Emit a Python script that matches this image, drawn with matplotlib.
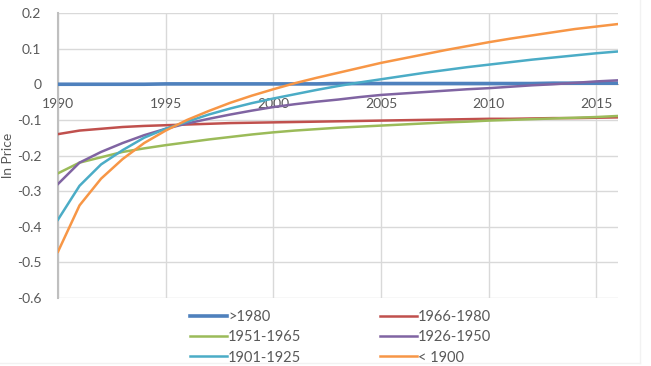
import numpy as np
import matplotlib
matplotlib.use("Agg")
import matplotlib.pyplot as plt
from matplotlib.lines import Line2D

plt.rcParams['font.family'] = ['Lato', 'DejaVu Sans']

years = list(range(1990, 2017))

after_1980 = [0.000, 0.000, 0.000, 0.000, 0.000, 0.001, 0.001, 0.001, 0.001, 0.001,
              0.001, 0.001, 0.001, 0.002, 0.002, 0.002, 0.002, 0.002, 0.002, 0.002,
              0.002, 0.002, 0.002, 0.003, 0.003, 0.003, 0.003]
c1966_1980 = [-0.140, -0.130, -0.125, -0.120, -0.117, -0.115, -0.113, -0.111, -0.109, -0.108,
              -0.107, -0.106, -0.105, -0.104, -0.103, -0.102, -0.101, -0.100, -0.099, -0.098,
              -0.097, -0.097, -0.096, -0.095, -0.095, -0.094, -0.093]
c1951_1965 = [-0.250, -0.220, -0.205, -0.190, -0.180, -0.171, -0.163, -0.155, -0.148, -0.141,
              -0.135, -0.130, -0.126, -0.122, -0.119, -0.116, -0.113, -0.110, -0.107, -0.105,
              -0.102, -0.100, -0.098, -0.096, -0.094, -0.092, -0.089]
c1926_1950 = [-0.280, -0.220, -0.190, -0.165, -0.143, -0.125, -0.110, -0.097, -0.085, -0.074,
              -0.064, -0.056, -0.049, -0.043, -0.036, -0.030, -0.026, -0.022, -0.018, -0.014,
              -0.011, -0.007, -0.003, 0.000, 0.004, 0.008, 0.011]
c1901_1925 = [-0.380, -0.285, -0.225, -0.185, -0.150, -0.125, -0.105, -0.085, -0.068, -0.053,
              -0.040, -0.028, -0.016, -0.005, 0.005, 0.014, 0.023, 0.032, 0.040, 0.048,
              0.055, 0.062, 0.069, 0.075, 0.081, 0.087, 0.092]
before_1900 = [-0.470, -0.340, -0.265, -0.210, -0.165, -0.130, -0.100, -0.075, -0.052, -0.032,
               -0.014, 0.003, 0.018, 0.032, 0.046, 0.060, 0.072, 0.084, 0.096, 0.107,
               0.118, 0.128, 0.137, 0.146, 0.155, 0.162, 0.169]

labels = ['>1980', '1966-1980', '1951-1965', '1926-1950', '1901-1925', '< 1900']
colors = ['#4F81BD', '#C0504D', '#9BBB59', '#8064A2', '#4BACC6', '#F79646']
series = [after_1980, c1966_1980, c1951_1965, c1926_1950, c1901_1925, before_1900]

fig = plt.figure(figsize=(6.51, 3.66), dpi=100)
ax = fig.add_axes([58 / 651, 1 - 298 / 366, 560 / 651, 285 / 366])

handles = []
for vals, lab, col in zip(series, labels, colors):
    lw = 2.6 if lab == '>1980' else 1.8
    h, = ax.plot(years, vals, color=col, lw=lw, label=lab, zorder=3)
    handles.append(h)

ax.set_xlim(1990, 2016)
ax.set_ylim(-0.6, 0.2)
ax.set_xticks(range(1990, 2016, 5))
ax.set_yticks(np.arange(-0.6, 0.21, 0.1))
ax.set_yticklabels(['-0.6', '-0.5', '-0.4', '-0.3', '-0.2', '-0.1', '0', '0.1', '0.2'])
ax.grid(True, color='#D9D9D9', lw=1)
ax.set_axisbelow(True)

for s in ['top', 'right']:
    ax.spines[s].set_visible(False)
ax.spines['left'].set_color('#BFBFBF')
ax.spines['left'].set_linewidth(1.5)
ax.spines['bottom'].set_position(('data', 0))
ax.spines['bottom'].set_color('#BFBFBF')
ax.tick_params(length=0, labelsize=10, labelcolor='#595959')
ax.tick_params(axis='x', pad=10)
ax.tick_params(axis='y', pad=12)
ax.set_ylabel('ln Price', fontsize=10, color='#595959', labelpad=2)

order = [0, 2, 4, 1, 3, 5]
fig.legend([handles[i] for i in order], [labels[i] for i in order],
           ncol=2, loc='lower left', bbox_to_anchor=(180 / 651, -0.024),
           frameon=False, fontsize=10.5, labelcolor='#595959',
           handlelength=2.5, handletextpad=0.1, columnspacing=5.4,
           labelspacing=0.42, borderpad=0.2)

# faint chart-area border
fig.add_artist(Line2D([640 / 651, 640 / 651], [3 / 366, 1], color='#F2F2F2', lw=1))
fig.add_artist(Line2D([0, 640 / 651], [3 / 366, 3 / 366], color='#F2F2F2', lw=1))

fig.savefig('out.png', dpi=100)
